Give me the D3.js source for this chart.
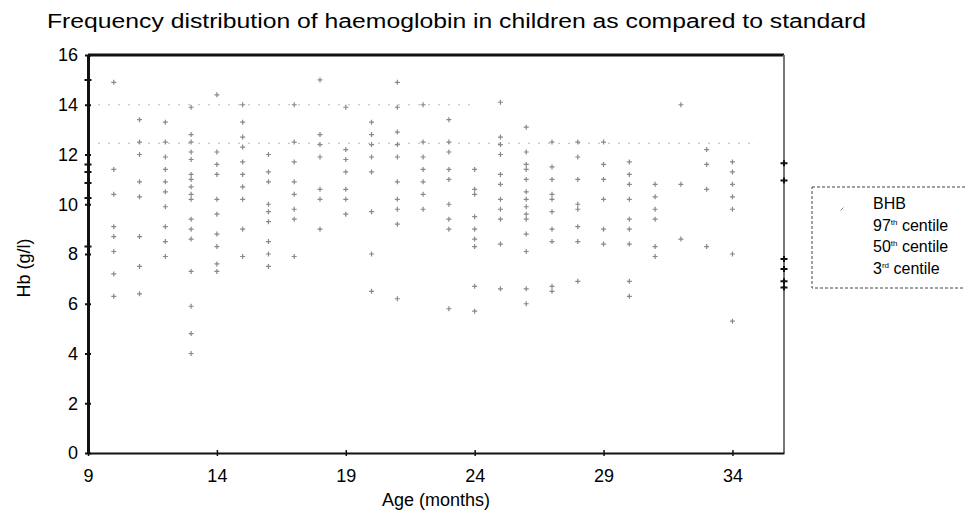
<!DOCTYPE html>
<html>
<head>
<meta charset="utf-8">
<script src="https://cdn.jsdelivr.net/npm/d3@7"></script>
<style>
  body { margin: 0; background: #fff; }
  text { font-family: "Liberation Sans", Arial, sans-serif; fill: #000; }
</style>
</head>
<body>
<div class="chart"></div>
<script>
// age columns (months) and the Hb readings at each age
var bhbAges = [10, 11, 12, 13, 14, 15, 16, 17, 18, 19, 20, 21, 22, 23, 24, 25, 26, 27, 28, 29, 30, 31, 32, 33, 34];
var bhbValues = [
  [14.9, 11.4, 10.4, 9.1, 8.7, 8.1, 7.2, 6.3],
  [13.4, 12.5, 12.0, 10.9, 10.3, 8.7, 7.5, 6.4],
  [13.3, 12.5, 11.9, 11.4, 10.9, 10.5, 9.9, 9.1, 8.5, 7.9],
  [13.9, 12.8, 12.5, 12.1, 11.8, 11.2, 11.0, 10.7, 10.4, 10.2, 9.4, 9.0, 8.6, 7.3, 5.9, 4.8, 4.0],
  [14.4, 12.1, 11.6, 11.2, 10.2, 9.6, 8.8, 8.3, 7.6, 7.3],
  [14.0, 13.3, 12.7, 12.3, 11.7, 11.2, 10.7, 10.2, 9.0, 7.9],
  [12.0, 11.3, 10.9, 10.0, 9.7, 9.3, 8.5, 8.0, 7.5],
  [14.0, 12.5, 11.7, 10.9, 10.4, 9.8, 9.4, 7.9],
  [15.0, 12.8, 12.4, 11.9, 10.6, 10.2, 9.0],
  [13.9, 12.2, 11.8, 11.3, 10.6, 10.2, 9.6],
  [13.3, 12.8, 12.4, 11.9, 11.3, 9.7, 8.0, 6.5],
  [14.9, 13.9, 12.9, 12.4, 11.9, 10.9, 10.2, 9.8, 9.2, 6.2],
  [14.0, 12.5, 11.9, 11.4, 10.9, 10.4, 9.8],
  [13.4, 12.5, 12.1, 11.4, 11.0, 10.0, 9.4, 9.0, 5.8],
  [11.4, 10.6, 10.4, 9.5, 9.0, 8.6, 8.3, 6.7, 5.7],
  [14.1, 12.7, 12.4, 12.0, 11.2, 10.8, 10.2, 9.8, 9.4, 8.4, 6.6],
  [13.1, 12.1, 11.6, 11.4, 11.0, 10.5, 10.2, 9.9, 9.6, 9.4, 8.8, 8.1, 6.6, 6.0],
  [12.5, 11.5, 11.0, 10.4, 10.2, 9.7, 9.0, 8.5, 6.7, 6.5],
  [12.5, 11.9, 11.0, 10.0, 9.8, 9.1, 8.5, 6.9],
  [12.5, 11.6, 11.0, 10.2, 9.0, 8.4],
  [11.7, 11.2, 10.8, 10.2, 9.4, 9.0, 8.4, 6.9, 6.3],
  [10.8, 10.3, 9.8, 9.4, 8.3, 7.9],
  [14.0, 10.8, 8.6],
  [12.2, 11.6, 10.6, 8.3],
  [11.7, 11.3, 10.8, 10.3, 9.8, 8.0, 5.3]
];

// standard centile points at the start and end ages
var centileAges = [9, 36];
var centileStart = [15.0, 11.6, 11.3, 10.85, 10.25, 8.3];
var centileEnd = [11.65, 10.95, 7.8, 7.4, 6.9, 6.65];

// faint dotted reference rows left in the scan
var rowLevels = [14.0, 12.45];
var rowEnds = [24, 35];

var xTicks = [9, 14, 19, 24, 29, 34];
var yTicks = [0, 2, 4, 6, 8, 10, 12, 14, 16];
var legendLabels = [["BHB", ""], ["97", "th"], ["50", "th"], ["3", "rd"]];

var margin = { top: 55, left: 88, right: 181, bottom: 60 };
var width = 965 - margin.left - margin.right;   // 696
var height = 513 - margin.top - margin.bottom;  // ~398

var svg = d3.select(".chart")
  .append("svg")
    .attr("width", 965)
    .attr("height", 513);

var g = svg.append("g")
    .attr("transform", "translate(" + margin.left + "," + margin.top + ")");

var x = d3.scaleLinear().domain([9, 36]).range([0, width]);
var y = d3.scaleLinear().domain([0, 16]).range([height, 0]);

// title
svg.append("text")
    .attr("x", 47)
    .attr("y", 28)
    .attr("textLength", 819)
    .attr("lengthAdjust", "spacingAndGlyphs")
    .style("font-size", "20px")
    .text("Frequency distribution of haemoglobin in children as compared to standard");

// dotted rows
g.selectAll(".row")
  .data(rowLevels)
  .enter().append("line")
    .attr("class", "row")
    .attr("x1", x(9))
    .attr("x2", function(d, i) { return x(rowEnds[i]); })
    .attr("y1", function(d) { return y(d); })
    .attr("y2", function(d) { return y(d); })
    .attr("stroke", "#bbb")
    .attr("stroke-width", 1)
    .attr("stroke-dasharray", "2,8");

// BHB scatter
var pts = [];
bhbAges.forEach(function(a, i) {
  bhbValues[i].forEach(function(v) { pts.push({ age: a, hb: v }); });
});

g.selectAll(".pt")
  .data(pts)
  .enter().append("path")
    .attr("class", "pt")
    .attr("transform", function(d) { return "translate(" + x(d.age) + "," + y(d.hb) + ")"; })
    .attr("d", "M-2.5,0H2.5M0,-2.5V2.5")
    .attr("stroke", "#888")
    .attr("stroke-width", 1.2)
    .attr("fill", "none");

// frame: top and right
g.append("line")
    .attr("x1", 0).attr("x2", width).attr("y1", 0).attr("y2", 0)
    .attr("stroke", "#111").attr("stroke-width", 3);
g.append("line")
    .attr("x1", width).attr("x2", width).attr("y1", 0).attr("y2", height)
    .attr("stroke", "#777").attr("stroke-width", 2);

// axes
var yAxis = g.append("g")
    .attr("class", "axisY")
    .call(d3.axisLeft(y).tickValues(yTicks).tickSize(0).tickPadding(10));
yAxis.select(".domain").attr("stroke", "#111").attr("stroke-width", 3);
yAxis.selectAll(".tick line").attr("x1", -3).attr("x2", 3).attr("stroke", "#111").attr("stroke-width", 2);
yAxis.selectAll("text").style("font-size", "18px").attr("fill", "#000");

var xAxis = g.append("g")
    .attr("class", "axisX")
    .attr("transform", "translate(0," + height + ")")
    .call(d3.axisBottom(x).tickValues(xTicks).tickSize(0).tickPadding(16));
xAxis.select(".domain").attr("stroke", "#111").attr("stroke-width", 2);
xAxis.selectAll(".tick line").attr("y1", -3).attr("y2", 3).attr("stroke", "#111").attr("stroke-width", 1.5);
xAxis.selectAll("text").style("font-size", "18px").attr("fill", "#000");

// centile markers on both edges
var marks = [];
centileStart.forEach(function(v) { marks.push({ age: centileAges[0], hb: v }); });
centileEnd.forEach(function(v) { marks.push({ age: centileAges[1], hb: v }); });

g.selectAll(".mark")
  .data(marks)
  .enter().append("path")
    .attr("class", "mark")
    .attr("transform", function(d) { return "translate(" + x(d.age) + "," + y(d.hb) + ")"; })
    .attr("d", "M-3.5,0H3.5M0,-3V3")
    .attr("stroke", "#111")
    .attr("stroke-width", 2);

// axis titles
svg.append("text")
    .attr("x", 436)
    .attr("y", 506)
    .style("text-anchor", "middle")
    .style("font-size", "18px")
    .text("Age (months)");

svg.append("text")
    .attr("transform", "translate(30,268) rotate(-90)")
    .style("text-anchor", "middle")
    .style("font-size", "18px")
    .text("Hb (g/l)");

// legend
var legend = svg.append("g").attr("transform", "translate(812,187)");
legend.append("rect")
    .attr("width", 160)
    .attr("height", 101)
    .attr("fill", "none")
    .attr("stroke", "#444")
    .attr("stroke-width", 1)
    .attr("stroke-dasharray", "3,2");

legend.append("path")
    .attr("transform", "translate(30,22)")
    .attr("d", "M-1.5,1.5L1.5,-1.5")
    .attr("stroke", "#888")
    .attr("stroke-width", 1);

var items = legend.selectAll(".item")
  .data(legendLabels)
  .enter().append("text")
    .attr("class", "item")
    .attr("x", 61)
    .attr("y", function(d, i) { return 22 + i * 21.5; })
    .style("font-size", "16px");

items.append("tspan").text(function(d) { return d[0]; });
items.append("tspan")
    .attr("dy", -6)
    .style("font-size", "8px")
    .text(function(d) { return d[1]; });
items.append("tspan")
    .attr("dy", function(d) { return d[1] ? 6 : 0; })
    .text(function(d) { return d[1] ? " centile" : ""; });
</script>
</body>
</html>
